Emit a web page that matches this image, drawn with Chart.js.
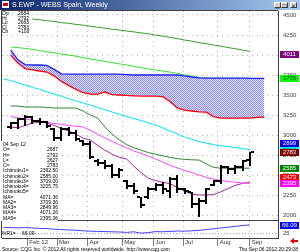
<!DOCTYPE html>
<html>
<head>
<meta charset="utf-8">
<script src="https://cdn.jsdelivr.net/npm/chart.js@4.4.0/dist/chart.umd.min.js"></script>
<style>
body{margin:0;width:300px;height:252px;overflow:hidden;position:relative;background:#fff;font-family:"Liberation Sans",Arial,sans-serif}
#c{position:absolute;left:0;top:0}
#bar{position:absolute;left:0;top:0;width:300px;height:10px;background:linear-gradient(to right,#0a246a,#a6caf0)}
#bar .t{position:absolute;left:12px;top:1px;font-size:7px;color:#fff;line-height:8px;white-space:nowrap}
#bar .ico{position:absolute;left:2px;top:1px;width:7px;height:7px;background:#fff}
#bar .ico i{position:absolute;left:1px;top:2px;width:5px;height:3px;background:#d00}
.btn{position:absolute;top:2px;width:7px;height:6px;background:#d4d0c8;border-top:1px solid #fff;border-left:1px solid #fff;border-right:1px solid #404040;border-bottom:1px solid #404040;font-size:6px;line-height:6px;text-align:center;color:#000;box-sizing:border-box}
.tl{position:absolute;left:2px;top:11px;font-size:5px;line-height:4.6px;color:#000}
.tl span{display:inline-block;width:16px}
#dw{position:absolute;left:1px;top:141px;width:57px;height:80px;background:#fff;font-size:5px;line-height:5.25px;color:#000;padding:1px 0 0 2px;box-sizing:border-box}
#dw div{display:flex;justify-content:space-between;white-space:nowrap}
#osc{position:absolute;left:2px;top:231px;font-size:5px;line-height:5px;color:#000;white-space:nowrap}
#osc span{display:inline-block;width:20px}
#foot{position:absolute;left:2px;top:246px;font-size:5px;line-height:6px;color:#000;white-space:nowrap}
#time{position:absolute;right:2px;top:246px;font-size:5px;line-height:6px;color:#000;white-space:nowrap}
</style>
</head>
<body>
<canvas id="c" width="300" height="252"></canvas>
<div id="bar"><div class="ico"><i></i></div><div class="t">S.EWP - WEBS Spain, Weekly</div>
<div class="btn" style="left:274px">_</div><div class="btn" style="left:281px">□</div><div class="btn" style="left:290px">×</div></div>
<div class="tl">
<div><span>Op</span>2684</div><div><span>Hi</span>2792</div><div><span>Lo</span>2663</div><div><span>Cl</span>2783</div><div><span>Ch</span>+103</div>
</div>
<div id="dw">
<div><span>04 Sep 12</span></div>
<div><span>O=</span><span>2687</span></div>
<div><span>H=</span><span>2792</span></div>
<div><span>L=</span><span>2627</span></div>
<div><span>C=</span><span>2783</span></div>
<div><span>Ichimoku1=</span><span>2392.50</span></div>
<div><span>Ichimoku2=</span><span>2585.00</span></div>
<div><span>Ichimoku3=</span><span>3709.00</span></div>
<div><span>Ichimoku4=</span><span>3205.75</span></div>
<div><span>Ichimoku5=</span><span></span></div>
<div><span>MA=</span><span>4071.36</span></div>
<div><span>MA2=</span><span>3709.36</span></div>
<div><span>MA3=</span><span>2849.96</span></div>
<div><span>MA4=</span><span>4071.26</span></div>
<div><span>MA5=</span><span>2395.36</span></div>
</div>
<div id="osc"><span>%R1=</span>66.09</div>
<div id="foot">Source: CQG Inc. © 2012 All rights reserved worldwide.  http://www.cqg.com</div>
<div id="time">Thu Sep 06 2012 20:29:08</div>
<script>
// week index: 0 = 2 Jan 2012
const weeks = [1,2,3,4,5,6,7,8,9,10,11,12,13,14,15,16,17,18,19,20,21,22,23,24,25,26,27,28,29,30,31,32,33,34,35,36,37];

// weekly bars, 16 Jan .. 04 Sep
const barWeeks = [2,3,4,5,6,7,8,9,10,11,12,13,14,15,16,17,18,19,20,21,22,23,24,25,26,27,28,29,30,31,32,33,34,35];
const opens  = [3100,3150,3200,3230,3175,3160,3080,2960,3080,3020,2930,2890,2680,2650,2610,2500,2430,2360,2220,2220,2330,2380,2300,2450,2320,2290,2140,2180,2380,2430,2600,2570,2600,2687];
const highs  = [3165,3215,3250,3240,3215,3170,3090,3100,3100,3060,2940,2930,2700,2690,2640,2585,2440,2400,2225,2350,2400,2410,2475,2500,2340,2290,2210,2340,2440,2625,2610,2625,2690,2792];
const lows   = [3085,3090,3130,3150,3140,3095,2940,2940,3000,2940,2870,2710,2620,2590,2475,2480,2340,2275,2100,2210,2310,2280,2230,2290,2275,2100,1990,2150,2375,2400,2530,2530,2560,2627];
const closes = [3150,3200,3230,3175,3160,3110,2960,3080,3020,2950,2890,2730,2650,2610,2500,2560,2360,2300,2130,2330,2380,2330,2450,2320,2300,2140,2180,2320,2430,2600,2570,2600,2680,2783];

// Ichimoku cloud (values per week in `weeks`)
const cloudTop = [null,4060,3940,3880,3875,3875,3870,3820,3765,3762,3762,3762,3762,3762,3762,3762,3762,3755,3750,3750,3750,3750,3750,3750,3750,3740,3725,3715,3712,3712,3712,3710,3710,3710,3709,3709,3709];
const cloudBot = [null,4000,3900,3830,3815,3800,3787,3740,3670,3620,3570,3530,3512,3512,3537,3505,3500,3495,3490,3487,3487,3487,3480,3420,3340,3310,3300,3290,3285,3230,3212,3212,3212,3212,3212,3220,3225];

// moving averages / ichimoku lines
const maLong   = [null,null,null,null,4450,4441,4428,4420,4404,4396,4383,4373,4360,4347,4336,4322,4312,4299,4289,4276,4265,4249,4236,4219,4205,4187,4173,4155,4141,4124,4111,4093,4079,4061,4046,null,null];
const maGreen  = [null,4100,4092,4083,4070,4056,4040,4026,4012,3999,3986,3967,3950,3936,3919,3906,3889,3876,3857,3843,3825,3813,3799,3786,3770,3751,3736,3719,3712,3711,3710,3710,3709,3709,3709,null,null];
const maCyan   = [3700,3681,3653,3625,3596,3570,3540,3512,3485,3456,3427,3400,3373,3344,3316,3287,3260,3231,3205,3181,3152,3125,3089,3050,3013,2975,2946,2919,2900,2880,2866,2855,2843,2830,2818,null,null];
const kijun    = [null,3362,3362,3350,3350,3350,3345,3337,3337,3337,3337,3300,3250,3212,3100,3010,2940,2880,2840,2810,2780,2760,2740,2720,2705,2695,2690,2687,2640,2595,2585,2585,2585,2585,2585,null,null];
const maPink   = [null,3230,3214,3200,3186,3170,3157,3145,3133,3120,3109,3100,3060,3010,2962,2920,2879,2840,2801,2770,2738,2700,2661,2620,2590,2558,2531,2500,2470,2450,2431,2420,2409,2400,2395,null,null];
const tenkan   = [null,3100,3090,3120,3150,3160,3150,3120,3080,3050,3010,2960,2937,2870,2810,2760,2720,2700,2610,2530,2460,2430,2410,2390,2345,2300,2260,2250,2250,2255,2290,2330,2370,2395,2410,null,null];

// lower panel oscillator
const osc = [52,52,51,52,50,48,47,44,42,40,39,36,34,33,32,31,30,28,31,24,27,32,31,33,35,34,36,38,42,46,50,54,58,62,66,null,null];

// axis ticks / labels
const priceTicks = [2000,2250,2500,2750,3000,3250,3500,3750,4000,4250,4500];
const oscTicks = [25,50,75];
const monthPos = [4.3,8.4,12.6,17.4,21.7,25.8,30.6,35.0];
const monthNames = ['Feb 12','Mar','Apr','May','Jun','Jul','Aug','Sep'];

// last-value markers on the price axis
const markVals = [4011,3709,2899,2814,2783,2585,2473,2395];
const markBg = ['#800080','#00ff00','#0000ff','#00ffff','#800000','#008000','#ff0000','#ff00ff'];
const markFg = ['#fff','#004000','#fff','#004040','#fff','#fff','#fff','#fff'];
const oscMark = 66.09;

function pts(arr) {
  return weeks.map((w, i) => ({x: w, y: arr[i]}));
}

// dotted cloud fill
const pc = document.createElement('canvas');
pc.width = 2; pc.height = 2;
const pctx = pc.getContext('2d');
pctx.fillStyle = '#dedeff'; pctx.fillRect(0, 0, 2, 2);
pctx.fillStyle = '#8c8cf4'; pctx.fillRect(0, 0, 1, 1); pctx.fillRect(1, 1, 1, 1);
const cloudFill = pctx.createPattern(pc, 'repeat');

const ohlcPlugin = {
  id: 'ohlc',
  afterDatasetsDraw(chart) {
    const {ctx, scales: {x, y}, chartArea} = chart;
    ctx.save();
    ctx.beginPath();
    ctx.rect(chartArea.left, y.top, chartArea.width, y.bottom - y.top);
    ctx.clip();
    ctx.fillStyle = '#000';
    barWeeks.forEach((w, i) => {
      const px = Math.round(x.getPixelForValue(w));
      const yh = Math.round(y.getPixelForValue(highs[i]));
      const yl = Math.round(y.getPixelForValue(lows[i]));
      const yo = Math.round(y.getPixelForValue(opens[i]));
      const yc = Math.round(y.getPixelForValue(closes[i]));
      ctx.fillRect(px - 1, yh, 2, yl - yh + 1);
      ctx.fillRect(px - 4, yo - 1, 3, 2);
      ctx.fillRect(px + 1, yc - 1, 3, 2);
    });
    ctx.restore();
  },
  afterDraw(chart) {
    const {ctx, scales: {y, y2}, chartArea} = chart;
    ctx.save();
    // frame + panel separator
    ctx.strokeStyle = '#404040';
    ctx.lineWidth = 1;
    ctx.beginPath();
    ctx.moveTo(chartArea.left - 0.5, chartArea.bottom);
    ctx.lineTo(chartArea.left - 0.5, chartArea.top - 0.5);
    ctx.lineTo(chartArea.right, chartArea.top - 0.5);
    ctx.moveTo(chartArea.left, Math.round(y.bottom) + 0.5);
    ctx.lineTo(chartArea.right, Math.round(y.bottom) + 0.5);
    ctx.stroke();
    // value markers
    ctx.font = '6px "Liberation Sans", Arial';
    ctx.textAlign = 'center';
    ctx.textBaseline = 'middle';
    markVals.forEach((v, i) => {
      const py = Math.round(y.getPixelForValue(v));
      ctx.fillStyle = markBg[i];
      ctx.fillRect(chartArea.right + 2, py - 3, 19, 7);
      ctx.fillStyle = markFg[i];
      ctx.fillText(String(v), chartArea.right + 11.5, py + 0.5);
    });
    const oy = Math.round(y2.getPixelForValue(oscMark));
    ctx.fillStyle = '#0000ff';
    ctx.fillRect(chartArea.right + 2, oy - 3, 19, 7);
    ctx.fillStyle = '#fff';
    ctx.fillText(oscMark.toFixed(2), chartArea.right + 11.5, oy + 0.5);
    // red scroll arrow
    ctx.fillStyle = '#e00000';
    ctx.beginPath();
    ctx.moveTo(290, 241); ctx.lineTo(294, 238); ctx.lineTo(294, 244); ctx.closePath(); ctx.fill();
    ctx.fillRect(294, 240, 4, 2);
    ctx.restore();
  }
};

function line(data, color, width) {
  return {data: pts(data), borderColor: color, borderWidth: width || 1, pointRadius: 0, fill: false, tension: 0, yAxisID: 'y'};
}

new Chart(document.getElementById('c'), {
  type: 'line',
  data: {
    datasets: [
      line(cloudTop, '#2020ff', 1.3),
      Object.assign(line(cloudBot, '#ff0000', 1.3), {fill: '-1', backgroundColor: cloudFill}),
      line(maLong, '#3a9a2a'),
      line(maGreen, '#33dd33'),
      line(maCyan, '#00e0ff'),
      line(kijun, '#2a8a2a'),
      line(maPink, '#ff44ff'),
      line(tenkan, '#a020a0'),
      {data: pts(osc), borderColor: '#4040ff', borderWidth: 1, pointRadius: 0, fill: false, yAxisID: 'y2'}
    ]
  },
  options: {
    responsive: false,
    devicePixelRatio: 1,
    animation: false,
    events: [],
    layout: {padding: {left: 2, top: 11, right: 0, bottom: 6}},
    plugins: {legend: {display: false}, tooltip: {enabled: false}},
    scales: {
      x: {
        type: 'linear', min: 0.8, max: 38.9,
        afterBuildTicks: s => { s.ticks = monthPos.map(v => ({value: v})); },
        afterFit: s => { s.height = 8; },
        grid: {color: '#b8b8a8', tickColor: '#808080', tickLength: 8, tickBorderDash: []},
        border: {color: '#404040', dash: [1, 4]},
        ticks: {
          callback: (v, i) => monthNames[i], align: 'start', labelOffset: 2, padding: -7,
          font: {size: 6, family: '"Liberation Sans", Arial'}, color: '#303030', maxRotation: 0, autoSkip: false
        }
      },
      y: {
        position: 'right', stack: 'p', stackWeight: 209, min: 1937.5, max: 4550,
        afterBuildTicks: s => { s.ticks = priceTicks.map(v => ({value: v})); },
        afterFit: s => { s.width = 22; },
        grid: {color: '#b8b8a8', drawTicks: false},
        border: {color: '#404040', dash: [1, 4]},
        ticks: {padding: 5, font: {size: 6, family: '"Liberation Sans", Arial'}, color: '#404040', callback: v => String(v)}
      },
      y2: {
        position: 'right', stack: 'p', stackWeight: 18, min: 0, max: 90,
        afterBuildTicks: s => { s.ticks = oscTicks.map(v => ({value: v})); },
        afterFit: s => { s.width = 22; },
        grid: {color: c => (c.tick && c.tick.value === 75) ? '#ff0000' : '#a0a0a0', drawTicks: false},
        border: {color: '#404040', dash: [1, 2]},
        ticks: {padding: 5, font: {size: 6, family: '"Liberation Sans", Arial'}, color: '#404040', callback: v => String(v)}
      }
    }
  },
  plugins: [ohlcPlugin]
});
</script>
</body>
</html>
